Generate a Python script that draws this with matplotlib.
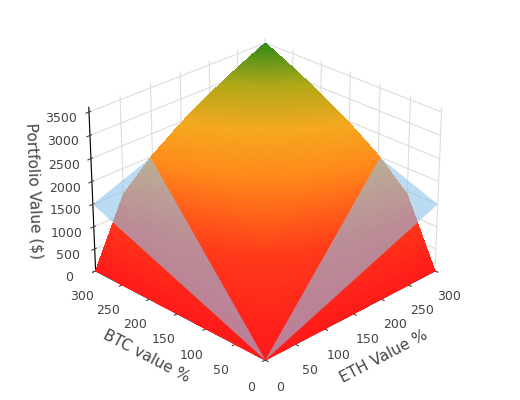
import numpy as np
import matplotlib
matplotlib.use("Agg")
import matplotlib.pyplot as plt
from matplotlib.colors import LinearSegmentedColormap
from mpl_toolkits.mplot3d.art3d import Poly3DCollection

btc = [0, 50, 100, 150, 200, 250, 300]
eth = [0, 50, 100, 150, 200, 250, 300]
# portfolio value grid, rows = BTC, cols = ETH
value = [
    [0, 0, 0, 0, 0, 0, 0],
    [0, 583, 825, 1010, 1167, 1304, 1429],
    [0, 825, 1167, 1429, 1650, 1845, 2021],
    [0, 1010, 1429, 1750, 2021, 2259, 2475],
    [0, 1167, 1650, 2021, 2333, 2609, 2858],
    [0, 1304, 1845, 2259, 2609, 2917, 3195],
    [0, 1429, 2021, 2475, 2858, 3195, 3500],
]
plane_btc = [0, 300]
plane_eth = [0, 300]
plane_val = [[0, 1500], [1500, 3000]]

def bilinear(xs, ys, grid, xf, yf):
    xs = np.asarray(xs, float); ys = np.asarray(ys, float); g = np.asarray(grid, float)
    tmp = np.array([np.interp(xf, xs, row) for row in g])
    out = np.array([np.interp(yf, ys, tmp[:, j]) for j in range(len(xf))]).T
    return out

fe = np.linspace(0, 300, 61)
fb = np.linspace(0, 300, 61)
E, B = np.meshgrid(fe, fb)
Z = bilinear(eth, btc, value, fe, fb)

# where the plane meets the surface on the far edge (BTC = 300)
edge_e = np.linspace(0, 300, 601)
edge_s = np.interp(edge_e, eth, value[-1])
edge_p = np.interp(edge_e, plane_eth, plane_val[-1])
cross = edge_e[np.argmax(edge_s >= edge_p)]
def pv(e, b):
    return bilinear(plane_eth, plane_btc, plane_val, np.array([e]), np.array([b]))[0, 0]
tri1 = [(0, 0, 0), (0, 300, pv(0, 300)), (cross, 300, pv(cross, 300))]
tri2 = [(0, 0, 0), (300, 0, pv(300, 0)), (300, cross, pv(300, cross))]

cmap = LinearSegmentedColormap.from_list(
    "c", [(0, "#ff1a1a"), (0.3, "#ff3a1a"), (0.55, "#ff8a1a"), (0.7, "#f5a820"),
          (0.85, "#b0a818"), (1, "#2e8b1a")])

fig = plt.figure(figsize=(5.2, 4.0), dpi=100)
ax = fig.add_subplot(111, projection="3d", computed_zorder=False)
fig.subplots_adjust(left=0, right=1, bottom=0.02, top=1)
ax.plot_surface(E, B, Z, cmap=cmap, vmin=0, vmax=3500, rstride=1, cstride=1,
                linewidth=0, antialiased=False, shade=False, zorder=1)
pc = Poly3DCollection([tri1, tri2], facecolor="#8ec4ea", alpha=0.6, edgecolor="none", zorder=2)
ax.add_collection3d(pc)
ax.view_init(elev=27, azim=-135)
ax.set_box_aspect(None, zoom=0.97)
ax.set_xlim(0, 300); ax.set_ylim(0, 300); ax.set_zlim(0, 3600)
ax.set_xticks([0, 50, 100, 150, 200, 250, 300])
ax.set_yticks([0, 50, 100, 150, 200, 250, 300])
ax.set_zticks([0, 500, 1000, 1500, 2000, 2500, 3000, 3500])
ax.set_xlabel("ETH Value %", color="#444", fontsize=11)
ax.set_ylabel("BTC value %", color="#444", fontsize=11)
ax.set_zlabel("Portfolio Value ($)", color="#444", fontsize=11)
for a in (ax.xaxis, ax.yaxis, ax.zaxis):
    a.set_pane_color((1, 1, 1, 0))
    a._axinfo["grid"]["color"] = "#dddddd"
ax.tick_params(labelsize=9, colors="#444")
fig.savefig("out.png", dpi=100)
